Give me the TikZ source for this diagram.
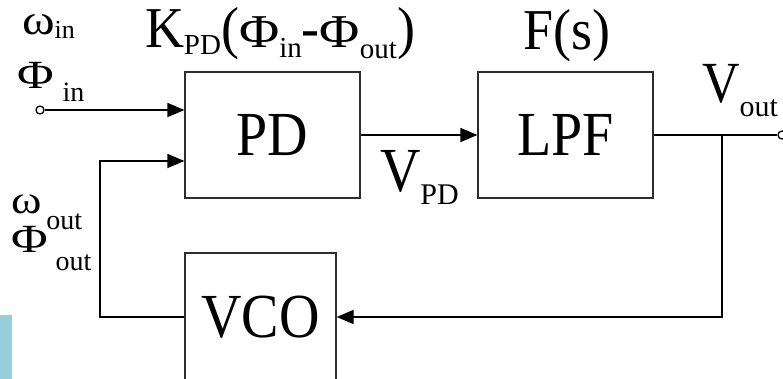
\documentclass[tikz,border=0pt]{standalone}
\usepackage{fontspec}
\usepackage{graphicx}
\setmainfont{Liberation Serif}
\usetikzlibrary{arrows.meta}
\definecolor{boxline}{RGB}{45,45,45}
\definecolor{deco}{RGB}{152,206,220}
\newcommand\fs[2]{{\fontsize{#1}{#1}\selectfont #2}}
\newcommand\lo[2]{\raisebox{-#1pt}{#2}}
\newcommand\tall[1]{\scalebox{1}[1.12]{#1}}
\newcommand\semitall[1]{\scalebox{1}[1.07]{#1}}
\newcommand\widephi[1]{\scalebox{1.25}[1]{\fs{#1}{Φ}}}
\newcommand\wideomega[1]{\scalebox{1.1}[0.95]{\fs{#1}{ω}}}
\tikzset{
  blk/.style={draw=boxline, line width=1.2pt, minimum width=175pt, minimum height=126pt, inner sep=0pt, font=\fontsize{56}{56}\selectfont},
  conn/.style={line width=1.6pt, draw=black},
  tip/.style={-{Triangle[length=17pt,width=14pt]}},
  term/.style={circle, draw, line width=1.3pt, fill=white, inner sep=0pt, minimum size=8pt},
  lbl/.style={anchor=base west, inner sep=0pt, outer sep=0pt},
}
\begin{document}
\begin{tikzpicture}[x=1pt,y=1pt]
\useasboundingbox (0,0) rectangle (783,-379);
\fill[deco] (0,-315) rectangle (12,-379);
\node[blk] (pd) at (272.5,-135) {\tall{PD}};
\node[blk] (lpf) at (565.5,-135) {\tall{LPF}};
\node[blk, minimum width=151pt, minimum height=128pt] (vco) at (260.5,-317) {\tall{VCO}};
\node[term] (in) at (40,-110) {};
\node[term] (out) at (782,-135) {};
\coordinate (fb) at (100,-161);
\coordinate (j) at (722,-135);
\draw[conn,tip] (in) -- (in -| pd.west);
\draw[conn,tip] (pd.east) -- (lpf.west);
\draw[conn] (lpf.east) -- (out);
\draw[conn,tip] (j) |- (vco.east);
\draw[conn,tip] (vco.west) -| (fb) -- (fb -| pd.west);
% labels
\node[lbl] (win) at (22,-35) {\wideomega{45}\lo{4}{\fs{26}{in}}};
\node[lbl] (phin) at (17,-89) {\widephi{40}\kern9pt\lo{13}{\fs{28}{in}}};
\node[lbl] (kpd) at (145,-48) {\semitall{\fs{54}{K}}\lo{7}{\fs{29}{PD}}\semitall{\fs{54}{(}\widephi{44}}\lo{10}{\fs{29}{in}}\semitall{\fs{54}{-}\widephi{44}}\lo{11}{\fs{29}{out}}\semitall{\fs{54}{)}}};
\node[lbl] (fs) at (523,-50) {\semitall{\fs{54}{F(s)}}};
\node[lbl] (vpd) at (380,-192) {\fs{56}{\tall{V}}\lo{13}{\fs{30}{PD}}};
\node[lbl] (vout) at (702,-103) {\fs{52}{\tall{V}}\lo{14}{\fs{30}{out}}};
\node[lbl] (wout) at (12,-214) {\wideomega{42}\kern4pt\lo{16}{\fs{28}{out}}};
\node[lbl] (phout) at (12,-252) {\widephi{40}\kern7pt\lo{18}{\fs{28}{out}}};
\end{tikzpicture}
\end{document}
